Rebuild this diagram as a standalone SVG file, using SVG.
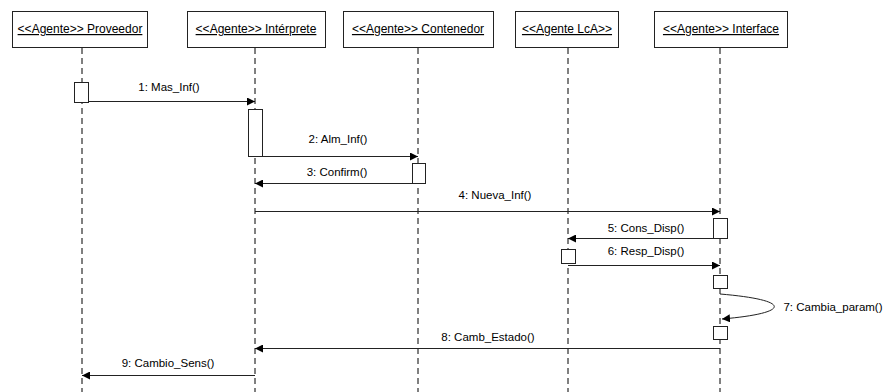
<svg xmlns="http://www.w3.org/2000/svg" width="886" height="392" viewBox="0 0 886 392">
  <defs>
    <marker id="arrow" viewBox="0 0 8 8" refX="8" refY="4" markerWidth="8" markerHeight="8" markerUnits="userSpaceOnUse" orient="auto">
      <path d="M0,0 L8,4 L0,8 z" fill="#000"/>
    </marker>
    <style>
      .head { fill: #fff; stroke: #222; stroke-width: 1; }
      .head-text { font-family: "Liberation Sans", Arial, sans-serif; font-size: 12px; fill: #000; text-anchor: middle; text-decoration: underline; }
      .life { stroke: #000; stroke-width: 1; stroke-dasharray: 6 4; fill: none; }
      .act { fill: #fff; stroke: #222; stroke-width: 1; }
      .msg { stroke: #222; stroke-width: 1; fill: none; marker-end: url(#arrow); }
      .lbl { font-family: "Liberation Sans", Arial, sans-serif; font-size: 11.5px; fill: #000; text-anchor: middle; }
    </style>
  </defs>
  <rect width="886" height="392" fill="#fff"/>

  <!-- lifelines: header box, dashed line, activation bars -->
  <g id="proveedor">
    <rect class="head" x="12.5" y="11.5" width="135" height="36"/>
    <text class="head-text" x="80" y="33">&lt;&lt;Agente&gt;&gt; Proveedor</text>
    <line class="life" x1="82" y1="48" x2="82" y2="392"/>
    <rect class="act" x="74.5" y="82.5" width="14" height="20"/>
  </g>

  <g id="interprete">
    <rect class="head" x="187.5" y="11.5" width="138" height="36"/>
    <text class="head-text" x="256" y="33">&lt;&lt;Agente&gt;&gt; Intérprete</text>
    <line class="life" x1="255" y1="48" x2="255" y2="392"/>
    <rect class="act" x="248.5" y="109.5" width="14" height="47"/>
  </g>

  <g id="contenedor">
    <rect class="head" x="343.5" y="11.5" width="150" height="36"/>
    <text class="head-text" x="418" y="33">&lt;&lt;Agente&gt;&gt; Contenedor</text>
    <line class="life" x1="418" y1="48" x2="418" y2="392"/>
    <rect class="act" x="412.5" y="163.5" width="13" height="20"/>
  </g>

  <g id="lca">
    <rect class="head" x="515.5" y="11.5" width="103" height="36"/>
    <text class="head-text" x="567" y="33">&lt;&lt;Agente LcA&gt;&gt;</text>
    <line class="life" x1="568" y1="48" x2="568" y2="392"/>
    <rect class="act" x="561.5" y="249.5" width="14" height="14"/>
  </g>

  <g id="interface">
    <rect class="head" x="654.5" y="11.5" width="133" height="36"/>
    <text class="head-text" x="721" y="33">&lt;&lt;Agente&gt;&gt; Interface</text>
    <line class="life" x1="720" y1="48" x2="720" y2="392"/>
    <rect class="act" x="713.5" y="218.5" width="14" height="20"/>
    <rect class="act" x="713.5" y="275.5" width="14" height="13"/>
    <rect class="act" x="713.5" y="326.5" width="14" height="13"/>
  </g>

  <!-- messages -->
  <g id="messages">
    <line class="msg" x1="88" y1="101.5" x2="255" y2="101.5"/>
    <text class="lbl" x="169" y="91">1: Mas_Inf()</text>

    <line class="msg" x1="262" y1="156.5" x2="418" y2="156.5"/>
    <text class="lbl" x="338" y="143">2: Alm_Inf()</text>

    <line class="msg" x1="412" y1="183.5" x2="255" y2="183.5"/>
    <text class="lbl" x="337" y="176">3: Confirm()</text>

    <line class="msg" x1="255" y1="211.5" x2="720" y2="211.5"/>
    <text class="lbl" x="495" y="199">4: Nueva_Inf()</text>

    <line class="msg" x1="728" y1="238.5" x2="568" y2="238.5"/>
    <text class="lbl" x="646" y="232">5: Cons_Disp()</text>

    <line class="msg" x1="568" y1="265.5" x2="720" y2="265.5"/>
    <text class="lbl" x="646" y="255">6: Resp_Disp()</text>

    <path class="msg" d="M720,294 C792,300 792,313 722,319"/>
    <text class="lbl" x="833" y="311">7: Cambia_param()</text>

    <line class="msg" x1="720" y1="348.5" x2="255" y2="348.5"/>
    <text class="lbl" x="488" y="341">8: Camb_Estado()</text>

    <line class="msg" x1="255" y1="375.5" x2="82" y2="375.5"/>
    <text class="lbl" x="168" y="367">9: Cambio_Sens()</text>
  </g>
</svg>
